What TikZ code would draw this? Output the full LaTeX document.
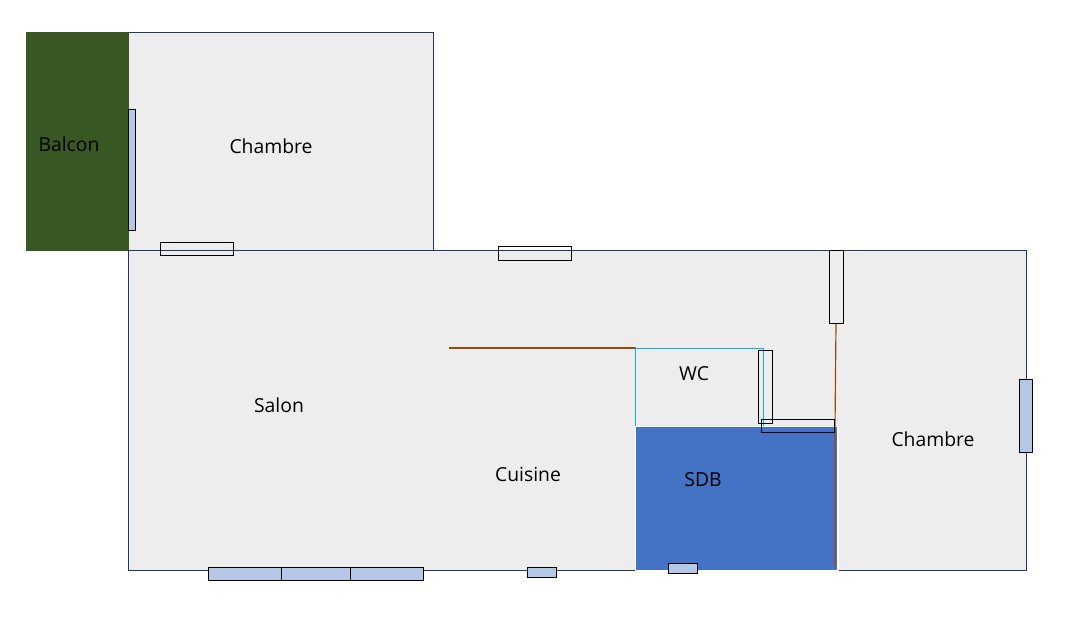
\documentclass[tikz,border=0pt]{standalone}
\usepackage{fontspec}
\setmainfont{Open Sans}
\usepackage{xcolor}
\usetikzlibrary{positioning}
\definecolor{roomclr}{RGB}{237,237,237}
\definecolor{wallclr}{RGB}{32,56,100}
\definecolor{balcclr}{RGB}{56,87,35}
\definecolor{sdbclr}{RGB}{68,114,196}
\definecolor{winclr}{RGB}{180,199,231}
\definecolor{pipeclr}{RGB}{150,72,20}
\definecolor{wcclr}{RGB}{0,176,240}
\tikzset{
    room/.style={draw=wallclr,fill=roomclr,line width=0.75pt},
    door/.style={draw=black,line width=0.75pt},
    win/.style={door,fill=winclr},
    pipe/.style={draw=pipeclr,line width=1pt},
    wcwall/.style={draw=wcclr,line width=0.75pt},
    lbl/.style={font=\fontsize{16.5}{19}\selectfont,text=black,inner sep=0pt},
}
\begin{document}
\begin{tikzpicture}[x=0.03cm,y=-0.03cm]
\useasboundingbox (0,0) rectangle (1070,616);
% Rooms
\fill[white] (0,0) rectangle (1070,616);
\path[room] (128,32) rectangle (433,250);
\fill[balcclr] (26,32) rectangle (129,250.5);
\path[room] (128,250) rectangle (1026,570);
\fill[white] (634.5,426) rectangle (838.5,572);
\fill[sdbclr] (636,427) rectangle (837,570);
% Inner walls
\draw[pipe] (449,348) -- (636,348);
\draw[wcwall] (635,426) -- (635,348) -- (763,348) -- (763,426);
\draw[pipe] (836,323) -- (835,427) -- (835,567);
% Doors
\draw[door] (160,242) rectangle (233,255);
\draw[door] (498,246) rectangle (571,260);
\draw[door] (829,250) rectangle (843,323);
\draw[door] (758,350) rectangle (772,423);
\draw[door] (761,419) rectangle (834,432);
% Windows
\draw[win] (128,109) rectangle (135,230);
\draw[win] (208,567) rectangle (281,580);
\draw[win] (281,567) rectangle (350,580);
\draw[win] (350,567) rectangle (423,580);
\draw[win] (527,567) rectangle (556,577);
\draw[win] (668,563) rectangle (697,573);
\draw[win] (1019,379) rectangle (1032,452);
% Labels
\node[lbl] (balcon) at (69,144) {Balcon};
\node[lbl] (chambrea) at (271,146) {Chambre};
\node[lbl] (salon) at (279,405) {Salon};
\node[lbl] (cuisine) at (528,474) {Cuisine};
\node[lbl] (wc) at (694,374) {WC};
\node[lbl] (sdb) at (703,480) {SDB};
\node[lbl] (chambreb) at (933,439) {Chambre};
\end{tikzpicture}
\end{document}
